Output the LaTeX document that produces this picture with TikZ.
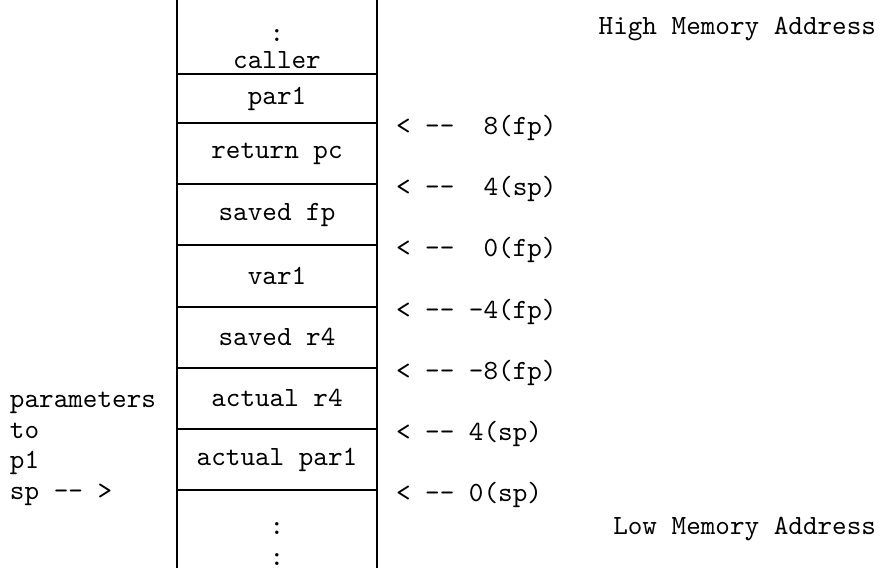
\documentclass[tikz,border=0pt]{standalone}
\usepackage{fontspec}
\setmonofont{lmmono10-regular}[Extension=.otf]
\usetikzlibrary{calc,positioning}

\begin{document}
\begin{tikzpicture}[x=0.5pt,y=0.5pt,line width=1pt,
  every node/.style={font=\ttfamily\fontsize{13.9}{15.3}\selectfont,inner sep=0pt,outer sep=0pt},
  cell/.style={draw,minimum width=100pt,minimum height=30.6pt},
  offset/.style={anchor=west}]
\useasboundingbox (0,0) rectangle (882,-568);
\coordinate (StackTop) at (0,0);
\coordinate (StackBottom) at (0,-568);
\node [align=center] (Caller) at (277,-49) {:\\[-1.8pt]caller};
\node [cell,anchor=north,minimum height=24.5pt] (Par) at (277,-74) {par1};
\node [cell,below=0pt of Par] (ReturnPc) {return pc};
\node [cell,below=0pt of ReturnPc] (SavedFp) {saved fp};
\node [cell,below=0pt of SavedFp] (VarOne) {var1};
\node [cell,below=0pt of VarOne] (SavedR) {saved r4};
\node [cell,below=0pt of SavedR] (ActualR) {actual r4};
\node [cell,below=0pt of ActualR] (ActualPar) {actual par1};
\node [align=center] (Rest) at (277,-544) {:\\:};
\draw (Par.west |- StackTop) -- (Par.west |- StackBottom);
\draw (Par.east |- StackTop) -- (Par.east |- StackBottom);
\node [offset] (FpPlusEight) at ($(Par.south east)+(19,-5)$) {<~--~~8(fp)};
\node [offset] (SpPlusFour) at ($(ReturnPc.south east)+(19,-5)$) {<~--~~4(sp)};
\node [offset] (FpZero) at ($(SavedFp.south east)+(19,-5)$) {<~--~~0(fp)};
\node [offset] (FpMinusFour) at ($(VarOne.south east)+(19,-5)$) {<~--~-4(fp)};
\node [offset] (FpMinusEight) at ($(SavedR.south east)+(19,-5)$) {<~--~-8(fp)};
\node [offset] (SpFour) at ($(ActualR.south east)+(19,-5)$) {<~--~4(sp)};
\node [offset] (SpZero) at ($(ActualPar.south east)+(19,-5)$) {<~--~0(sp)};
\node [align=left,anchor=west] (ParamsToPOne) at (10,-449) {parameters\\to\\p1\\sp~--~>};
\node [anchor=east] (HighAddr) at (876,-29) {High Memory Address};
\node [anchor=east] (LowAddr) at (876,-529) {Low Memory Address};
\end{tikzpicture}
\end{document}
